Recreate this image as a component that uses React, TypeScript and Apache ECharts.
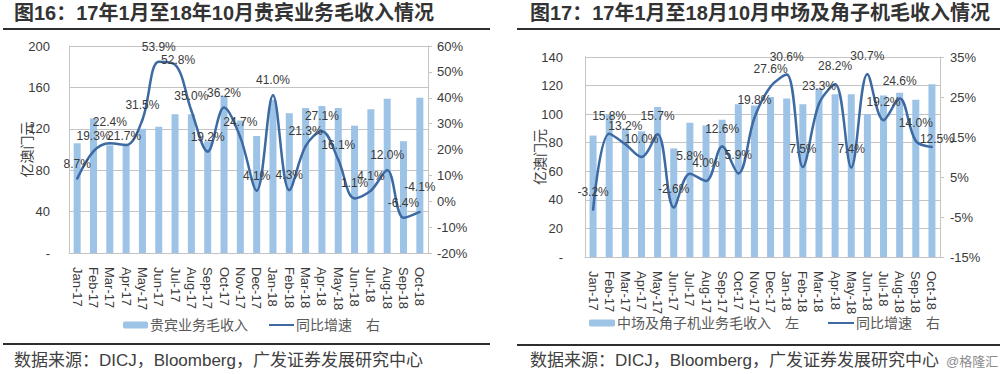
import React, { useEffect, useRef } from 'react';
import * as echarts from 'echarts';

const months = ['Jan-17','Feb-17','Mar-17','Apr-17','May-17','Jun-17','Jul-17','Aug-17','Sep-17','Oct-17','Nov-17','Dec-17','Jan-18','Feb-18','Mar-18','Apr-18','May-18','Jun-18','Jul-18','Aug-18','Sep-18','Oct-18'];

// Fig 16: VIP gross revenue (100m MOP) and YoY growth (%)
const vipRevenue = [106, 130, 104, 105, 120, 122, 134, 134, 108, 152, 128, 113, 148, 135, 140, 142, 140, 123, 139, 149, 108, 150];
const vipGrowth = [8.7, 19.3, 22.4, 21.7, 31.5, 53.9, 52.8, 35.0, 19.2, 36.2, 24.7, 4.1, 41.0, 4.3, 21.3, 27.1, 16.1, 1.1, 4.1, 12.0, -6.4, -4.1];

// Fig 17: Mass + slot gross revenue (100m MOP) and YoY growth (%)
const massRevenue = [85, 100, 90, 88, 105, 76, 94, 92, 96, 107, 106, 112, 111, 107, 118, 114, 114, 100, 113, 115, 110, 121];
const massGrowth = [-3.2, 15.8, 13.2, 10.0, 15.7, -2.6, 5.8, 4.0, 12.6, 5.9, 19.8, 27.6, 30.6, 7.5, 23.3, 28.2, 7.4, 30.7, 19.2, 24.6, 14.0, 12.5];

const massRightTicks = [-15, -5, 5, 15, 25, 35];

const title16 = '图16：17年1月至18年10月贵宾业务毛收入情况';
const title17 = '图17：17年1月至18月10月中场及角子机毛收入情况';
const sourceText = '数据来源：DICJ，Bloomberg，广发证券发展研究中心';
const yName = '亿澳门元';
const vipBarName = '贵宾业务毛收入';
const massBarName = '中场及角子机业务毛收入　左';
const growthName = '同比增速　右';

// label nudges (style only)
const vipLabelNudge: Record<number, number[]> = { 2: [0, -6], 3: [-2, 6], 6: [3, 10], 21: [0, -10] };
const massLabelNudge: Record<number, number[]> = { 21: [5, 10] };

const FONT = '"Liberation Sans", "Noto Sans CJK SC", Arial, sans-serif';
const BAR = '#9dc3e6';
const LINE = '#3d6aa3';
const GRID = '#c4c4c4';
const TXT = '#3a3a3a';

function xAxis(gridIndex: number) {
  return {
    type: 'category',
    gridIndex,
    data: months,
    boundaryGap: true,
    axisLine: { show: true, lineStyle: { color: GRID, width: 1 } },
    axisTick: { show: false },
    axisLabel: { rotate: -90, margin: 14, fontSize: 13, color: TXT, fontFamily: FONT, interval: 0 },
    splitLine: { show: false },
  };
}

function lineData(vals: number[], nudge: Record<number, number[]>) {
  return vals.map((v, i) => (nudge[i] ? { value: v, label: { offset: nudge[i] } } : v));
}

function labelCfg(distance: number) {
  return {
    show: true,
    position: 'top',
    distance,
    fontSize: 12,
    color: TXT,
    fontFamily: FONT,
    formatter: (p: any) => `${Number(p.value).toFixed(1)}%`,
  };
}

const lineLegendItem = { name: growthName, itemStyle: { opacity: 0 }, lineStyle: { width: 2 } };

export default function App() {
  const ref = useRef<HTMLDivElement>(null);
  useEffect(() => {
    const chart = echarts.init(ref.current!, null, { renderer: 'svg' });
    const option: any = {
      animation: false,
      backgroundColor: '#ffffff',
      textStyle: { fontFamily: FONT },
      grid: [
        { left: 69, top: 46, width: 359, height: 207, containLabel: false },
        { left: 585, top: 57, width: 355, height: 200, containLabel: false },
      ],
      xAxis: [xAxis(0), xAxis(1)],
      yAxis: [
        {
          type: 'value', gridIndex: 0, min: 0, max: 200, interval: 40,
          name: yName, nameLocation: 'middle', nameGap: 35, nameMoveOverlap: false,
          nameTextStyle: { fontSize: 14, color: TXT, fontFamily: FONT },
          axisLine: { show: true, lineStyle: { color: GRID } },
          axisTick: { show: false },
          axisLabel: { fontSize: 13, color: TXT, margin: 19, formatter: (v: number) => (v === 0 ? '-' : String(v)) },
          splitLine: { show: true, lineStyle: { color: GRID, width: 1 } },
        },
        {
          type: 'value', gridIndex: 0, position: 'right', min: -20, max: 60, interval: 10,
          axisLine: { show: true, lineStyle: { color: GRID } },
          axisTick: { show: true, inside: false, length: 4, lineStyle: { color: GRID } },
          axisLabel: { fontSize: 13, color: TXT, margin: 9, formatter: (v: number) => `${v}%` },
          splitLine: { show: false },
        },
        {
          type: 'value', gridIndex: 1, min: 0, max: 140, interval: 20,
          name: yName, nameLocation: 'middle', nameGap: 38, nameMoveOverlap: false,
          nameTextStyle: { fontSize: 14, color: TXT, fontFamily: FONT },
          axisLine: { show: true, lineStyle: { color: GRID } },
          axisTick: { show: false },
          axisLabel: { fontSize: 13, color: TXT, margin: 22, formatter: (v: number) => (v === 0 ? '-' : String(v)) },
          splitLine: { show: true, lineStyle: { color: GRID, width: 1 } },
        },
        {
          type: 'value', gridIndex: 1, position: 'right', min: -15, max: 35,
          axisLine: { show: true, lineStyle: { color: GRID } },
          axisTick: { show: true, inside: false, length: 4, lineStyle: { color: GRID }, customValues: massRightTicks },
          axisLabel: { fontSize: 13, color: TXT, margin: 10, customValues: massRightTicks, formatter: (v: number) => `${v}%` },
          splitLine: { show: false },
        },
      ],
      legend: [
        {
          data: [vipBarName, lineLegendItem], left: 123, top: 318, padding: 0,
          itemWidth: 25, itemHeight: 7, itemGap: 20,
          textStyle: { fontSize: 14, color: '#595959', fontFamily: FONT, padding: [0, 0, 0, -3] },
        },
        {
          data: [massBarName, lineLegendItem], left: 589, top: 316, padding: 0,
          itemWidth: 26, itemHeight: 7, itemGap: 28,
          textStyle: { fontSize: 14, color: '#595959', fontFamily: FONT, padding: [0, 0, 0, -3] },
        },
      ],
      series: [
        { name: vipBarName, type: 'bar', xAxisIndex: 0, yAxisIndex: 0, data: vipRevenue, barWidth: 7, itemStyle: { color: BAR } },
        {
          name: growthName, type: 'line', xAxisIndex: 0, yAxisIndex: 1, data: lineData(vipGrowth, vipLabelNudge),
          smooth: 0.35, symbol: 'circle', symbolSize: 2, showSymbol: true,
          lineStyle: { color: LINE, width: 2.5 }, itemStyle: { color: LINE },
          label: labelCfg(8), z: 5,
        },
        { name: massBarName, type: 'bar', xAxisIndex: 1, yAxisIndex: 2, data: massRevenue, barWidth: 7, itemStyle: { color: BAR } },
        {
          name: growthName, type: 'line', xAxisIndex: 1, yAxisIndex: 3, data: lineData(massGrowth, massLabelNudge),
          smooth: 0.35, symbol: 'circle', symbolSize: 2, showSymbol: true,
          lineStyle: { color: LINE, width: 2.5 }, itemStyle: { color: LINE },
          label: labelCfg(11), z: 5,
        },
      ],
      graphic: [
        { type: 'text', left: 14, top: 3, style: { text: title16, font: `bold 20px ${FONT}`, fill: '#333333' } },
        { type: 'text', left: 530, top: 3, style: { text: title17, font: `bold 20px ${FONT}`, fill: '#333333' } },
        { type: 'line', shape: { x1: 3, y1: 29, x2: 490, y2: 29 }, style: { stroke: '#2e2e2e', lineWidth: 2 } },
        { type: 'line', shape: { x1: 517, y1: 29, x2: 1000, y2: 29 }, style: { stroke: '#2e2e2e', lineWidth: 2 } },
        { type: 'line', shape: { x1: 3, y1: 344, x2: 490, y2: 344 }, style: { stroke: '#2e2e2e', lineWidth: 2 } },
        { type: 'line', shape: { x1: 517, y1: 345, x2: 1000, y2: 345 }, style: { stroke: '#2e2e2e', lineWidth: 2 } },
        { type: 'text', left: 14, top: 352, style: { text: sourceText, font: `17px ${FONT}`, fill: '#404040' } },
        { type: 'text', left: 530, top: 352, style: { text: sourceText, font: `17px ${FONT}`, fill: '#404040' } },
        { type: 'text', left: 946, top: 355, style: { text: '@格隆汇', font: `13px ${FONT}`, fill: '#8c8c8c' } },
      ],
    };
    chart.setOption(option);
    return () => chart.dispose();
  }, []);
  return <div ref={ref} style={{ position: 'absolute', left: 0, top: 0, width: 1000, height: 374, background: '#fff' }} />;
}
